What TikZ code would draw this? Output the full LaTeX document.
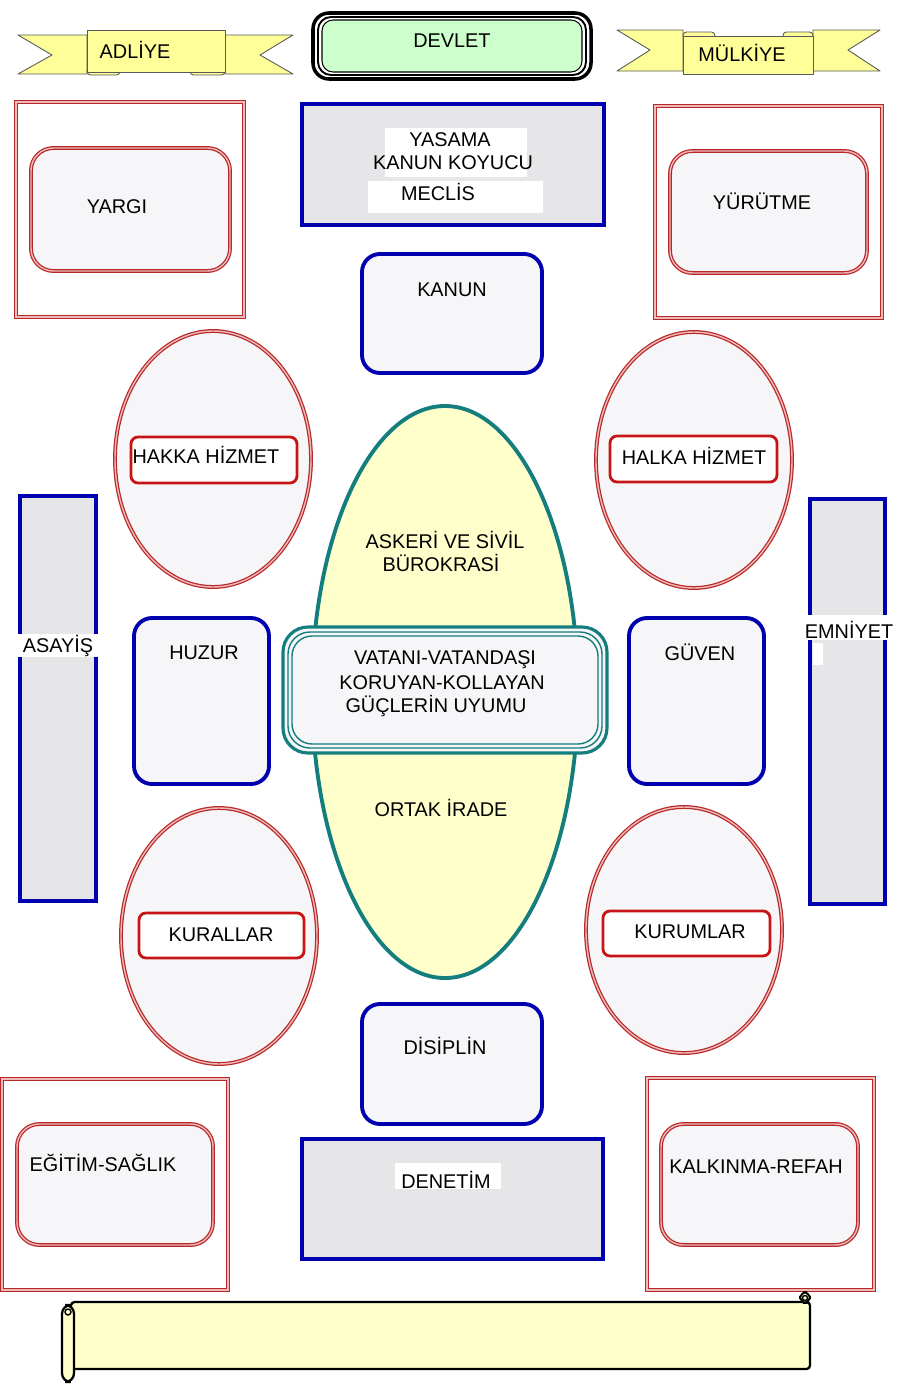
\documentclass[tikz,border=0pt]{standalone}
\usepackage{fontspec}
\setmainfont{Liberation Sans}
\definecolor{dblue}{RGB}{0,0,175}
\definecolor{boxgray}{RGB}{230,230,232}
\definecolor{paper}{RGB}{246,246,248}
\definecolor{dred}{RGB}{185,40,40}
\definecolor{lpink}{RGB}{238,185,185}
\definecolor{tagred}{RGB}{200,20,20}
\definecolor{dteal}{RGB}{20,125,125}
\definecolor{lyellow}{RGB}{255,255,204}
\definecolor{lgreen}{RGB}{204,255,204}
\definecolor{ribbony}{RGB}{255,255,153}
\begin{document}
\begin{tikzpicture}[x=0.02cm,y=-0.02cm,
    bluebox/.style={draw=dblue,line width=2.2pt,fill=boxgray},
    blueround/.style={draw=dblue,line width=2.2pt,fill=paper,rounded corners=0.36cm},
    redframe/.style={draw=dred,line width=0.7pt,double=lpink,double distance=0.8pt},
    redround/.style={redframe,fill=paper,rounded corners=0.45cm},
    redtag/.style={draw=tagred,line width=1.6pt,fill=white,rounded corners=0.14cm},
    ribbon/.style={draw=black!65,line width=0.5pt,fill=ribbony,line join=round},
    patch/.style={fill=white,draw=none}]
  \path[use as bounding box,fill=white] (0,0) rectangle (906,1396);

  % ribbons on top
  \draw[ribbon] (18,35) -- (87,35) -- (87,74) -- (18,74) -- (52,55) -- cycle;
  \draw[ribbon] (293,35) -- (225,35) -- (225,74) -- (293,74) -- (260,55) -- cycle;
  \draw[ribbon,rounded corners=2pt] (87,68) rectangle (120,75);
  \draw[ribbon,rounded corners=2pt] (190,68) rectangle (225,75);
  \draw[ribbon] (87,30) rectangle (225,72);
  \draw[ribbon] (617,30) -- (683,30) -- (683,71) -- (617,71) -- (650,50) -- cycle;
  \draw[ribbon] (880,30) -- (813,30) -- (813,71) -- (880,71) -- (848,50) -- cycle;
  \draw[ribbon,rounded corners=2pt] (683,32) rectangle (715,39);
  \draw[ribbon,rounded corners=2pt] (783,32) rectangle (813,39);
  \draw[ribbon] (683,36) rectangle (813,74);

  % devlet box
  \draw[line width=2pt,rounded corners=0.32cm] (313,13) rectangle (591,79);
  \draw[line width=1.1pt,rounded corners=0.26cm] (318,17) rectangle (586,75);
  \draw[line width=0.6pt,rounded corners=0.22cm,fill=lgreen] (322,20) rectangle (582,72);

  % red frames
  \draw[redframe] (16,102) rectangle (244,317);
  \draw[redround] (31,148) rectangle (230,271);
  \draw[redframe] (655,106) rectangle (882,318);
  \draw[redround] (670,151) rectangle (867,273);
  \draw[redframe] (2,1079) rectangle (228,1290);
  \draw[redround] (17,1124) rectangle (213,1245);
  \draw[redframe] (647,1078) rectangle (874,1290);
  \draw[redround] (661,1124) rectangle (858,1245);

  % blue boxes
  \draw[bluebox] (302,104) rectangle (604,225);
  \draw[bluebox] (302,1139) rectangle (603,1259);
  \draw[bluebox] (20,496) rectangle (96,901);
  \draw[bluebox] (810,499) rectangle (885,904);
  \draw[blueround] (362,254) rectangle (542,373);
  \draw[blueround] (134,618) rectangle (269,784);
  \draw[blueround] (629,618) rectangle (764,784);
  \draw[blueround] (362,1004) rectangle (542,1124);
  \fill[patch] (385,128) rectangle (527,177);
  \fill[patch] (368,181) rectangle (543,213);
  \fill[patch] (18,634) rectangle (100,657);
  \fill[patch] (805,615) rectangle (895,640);
  \fill[patch] (813,643) rectangle (823,665);
  \fill[patch] (395,1163) rectangle (501,1189);

  % ovals
  \draw[redframe,fill=paper] (213,459) ellipse [x radius=98,y radius=128];
  \draw[redtag] (131,437) rectangle (297,483);
  \draw[redframe,fill=paper] (694,460) ellipse [x radius=98,y radius=128];
  \draw[redtag] (610,436) rectangle (777,482);
  \draw[redframe,fill=paper] (219,936) ellipse [x radius=98,y radius=128];
  \draw[redtag] (139,913) rectangle (304,958);
  \draw[redframe,fill=paper] (684,930) ellipse [x radius=98,y radius=123];
  \draw[redtag] (603,911) rectangle (770,956);

  % center
  \draw[draw=dteal,line width=2.2pt,fill=lyellow] (445,692) ellipse [x radius=133,y radius=286];
  \draw[draw=dteal,line width=1.8pt,fill=paper,rounded corners=0.5cm] (283,627) rectangle (607,753);
  \draw[draw=dteal,line width=0.8pt,rounded corners=0.44cm] (288,632) rectangle (602,748);
  \draw[draw=dteal,line width=0.8pt,rounded corners=0.4cm] (292,636) rectangle (598,744);

  % scroll at the bottom
  \draw[line width=1.3pt,fill=lyellow,rounded corners=2pt] (71,1302) -- (810,1302) -- (810,1369) -- (71,1369) -- cycle;
  \draw[line width=1.1pt,fill=lyellow,rounded corners=4pt] (800,1292) rectangle (810,1303);
  \draw[line width=0.8pt] (805,1298) circle [radius=2.5];
  \draw[line width=1.3pt,fill=lyellow,rounded corners=5pt] (62,1305) rectangle (74,1382);
  \draw[line width=0.8pt] (68,1312) circle [radius=3];

  \begin{scope}[every node/.style={font=\fontsize{11.3}{13}\selectfont,inner sep=0pt}]
    \node (adliye) at (135,50) {ADLİYE};
    \node (devlet) at (452,41) {DEVLET};
    \node (mulkiye) at (742,53) {MÜLKİYE};
    \node (yargi) at (117,207) {YARGI};
    \node (yasama) at (450,140) {YASAMA};
    \node (koyucu) at (453,163) {KANUN KOYUCU};
    \node (meclis) at (438,192) {MECLİS};
    \node (yurutme) at (762,201) {YÜRÜTME};
    \node (kanun) at (452,290) {KANUN};
    \node (hakka) at (206,455) {HAKKA HİZMET};
    \node (halka) at (694,456) {HALKA HİZMET};
    \node (askeri) at (445,540) {ASKERİ VE SİVİL};
    \node (buro) at (441,563) {BÜROKRASİ};
    \node (asayis) at (58,646) {ASAYİŞ};
    \node (emniyet) at (849,630) {EMNİYET};
    \node (huzur) at (204,653) {HUZUR};
    \node (guven) at (700,652) {GÜVEN};
    \node (vatan) at (445,660) {VATANI-VATANDAŞI};
    \node (koruyan) at (442,683) {KORUYAN-KOLLAYAN};
    \node (uyum) at (436,706) {GÜÇLERİN UYUMU};
    \node (irade) at (441,808) {ORTAK İRADE};
    \node (kurallar) at (221,935) {KURALLAR};
    \node (kurumlar) at (690,932) {KURUMLAR};
    \node (disiplin) at (445,1046) {DİSİPLİN};
    \node (denetim) at (446,1180) {DENETİM};
    \node (egitim) at (103,1163) {EĞİTİM-SAĞLIK};
    \node (refah) at (756,1167) {KALKINMA-REFAH};
  \end{scope}
\end{tikzpicture}
\end{document}
